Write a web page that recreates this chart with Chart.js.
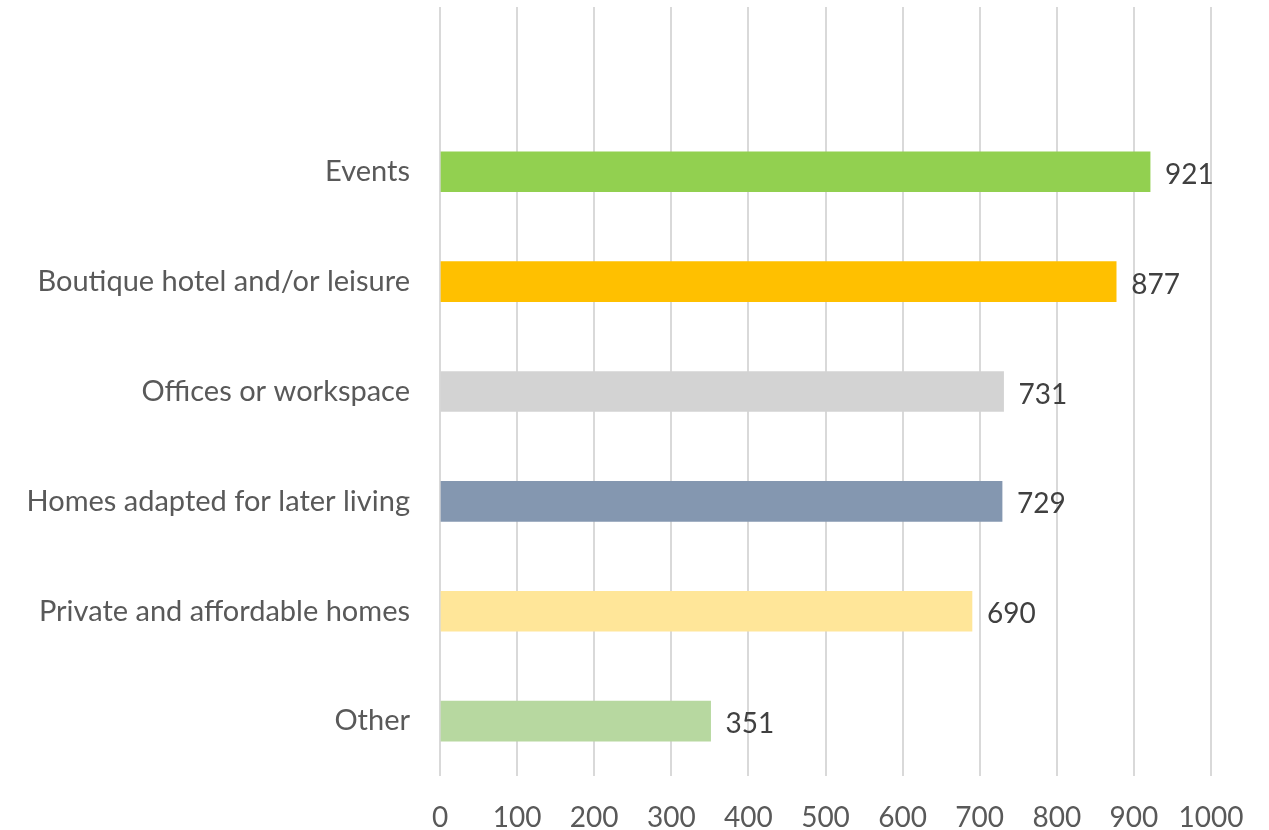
<!doctype html>
<html lang="en">
<head>
  <meta charset="utf-8">
  <title>Preferred Uses</title>
  <script src="https://cdn.jsdelivr.net/npm/chart.js"></script>
  <style>
    html, body { margin: 0; padding: 0; background: #fff; }
  </style>
</head>
<body>
  <canvas id="usesChart" width="1269" height="830"></canvas>

  <script>
    // first slot is left empty, as in the original
    const categories = ['', 'Events', 'Boutique hotel and/or leisure', 'Offices or workspace',
      'Homes adapted for later living', 'Private and affordable homes', 'Other'];
    const counts = [null, 921, 877, 731, 729, 690, 351];
    const barColors = ['#ffffff', '#92D050', '#FFC000', '#D3D3D3', '#8497B0', '#FFE699', '#B7D8A0'];
    const xTicks = [0, 100, 200, 300, 400, 500, 600, 700, 800, 900, 1000];

    const fontFamily = 'Lato, "Open Sans", sans-serif';

    // draw the value next to each bar
    const valueLabels = {
      id: 'valueLabels',
      afterDatasetsDraw(chart) {
        const ctx = chart.ctx;
        const meta = chart.getDatasetMeta(0);
        ctx.save();
        ctx.font = '28px ' + fontFamily;
        ctx.fillStyle = '#404040';
        ctx.textAlign = 'left';
        ctx.textBaseline = 'middle';
        meta.data.forEach((bar, i) => {
          const v = counts[i];
          if (v == null) return;
          ctx.fillText(String(v), bar.x + 15, bar.y + 3);
        });
        ctx.restore();
      }
    };

    const ctx = document.getElementById('usesChart').getContext('2d');
    new Chart(ctx, {
      type: 'bar',
      data: {
        labels: categories,
        datasets: [{
          data: counts,
          backgroundColor: barColors,
          barThickness: 40
        }]
      },
      options: {
        indexAxis: 'y',
        responsive: false,
        animation: false,
        layout: { padding: { top: 7, right: 58, left: 0, bottom: 0 } },
        plugins: {
          legend: { display: false },
          tooltip: { enabled: false }
        },
        scales: {
          x: {
            min: 0,
            max: 1000,
            afterBuildTicks: scale => { scale.ticks = xTicks.map(v => ({ value: v })); },
            afterFit: scale => { scale.height = 54; },
            border: { display: false },
            grid: { color: '#d9d9d9', lineWidth: 2, drawTicks: false },
            ticks: {
              padding: 25,
              color: '#595959',
              font: { family: fontFamily, size: 28 },
              callback: v => String(v)
            }
          },
          y: {
            afterFit: scale => {
              scale.width = 440;
              scale.paddingTop = 0;
              scale.paddingBottom = 0;
            },
            border: { display: false },
            grid: { display: false, drawTicks: false },
            ticks: {
              padding: 30,
              color: '#595959',
              font: { family: fontFamily, size: 29 }
            }
          }
        }
      },
      plugins: [valueLabels]
    });
  </script>
</body>
</html>
